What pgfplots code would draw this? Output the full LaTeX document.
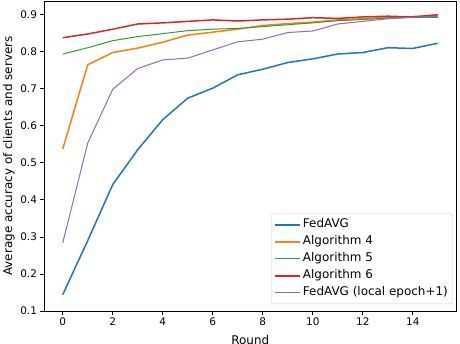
\documentclass[border=0pt]{standalone}
\usepackage{fontspec}
\setmainfont{DejaVu Sans}
\usepackage{pgfplots}
\pgfplotsset{compat=1.18}
\definecolor{mplblue}{HTML}{1F77B4}
\definecolor{mplorange}{HTML}{FF7F0E}
\definecolor{mplgreen}{HTML}{2CA02C}
\definecolor{mplred}{HTML}{D62728}
\definecolor{mplpurple}{HTML}{9467BD}
\begin{document}
\begin{tikzpicture}
\begin{axis}[name=ax, scale only axis, width=412.5bp, height=310bp,
  xmin=-0.75, xmax=15.75, ymin=0.1, ymax=0.936,
  xtick={0,2,...,14}, ytick={0.1,0.2,0.3,0.4,0.5,0.6,0.7,0.8,0.9},
  xtick pos=bottom, ytick pos=left,
  tick align=outside, major tick length=3.5bp,
  tick style={black, line width=0.6bp},
  axis line style={line width=0.6bp},
  /pgf/number format/assume math mode=true,
  ticklabel style={font=\fontsize{10.5}{12}\selectfont},
  yticklabel style={/pgf/number format/.cd, fixed, fixed zerofill, precision=1},
  xlabel={Round}, ylabel={Average accuracy of clients and servers},
  label style={font=\fontsize{12}{14}\selectfont},
  xlabel style={at={(axis description cs:0.5,-0.077)}, anchor=north, inner sep=0pt},
  ylabel style={at={(axis description cs:-0.085,0.5)}, anchor=center},
  legend style={at={(0.9915,0.0226)}, anchor=south east, draw=black!20, rounded corners=2pt,
    font=\fontsize{12}{14}\selectfont, row sep=0bp, inner xsep=3bp, inner ysep=2.5bp,
    nodes={text height=9.5bp, text depth=3.5bp}},
  legend cell align=left,
  legend image code/.code={\draw[#1] (0bp,0bp) -- (25bp,0bp);},
]
\addplot[color=mplblue, line width=1.5bp] coordinates {(0,0.144)(1,0.29)(2,0.441)(3,0.535)(4,0.616)(5,0.674)(6,0.701)(7,0.737)(8,0.752)(9,0.770)(10,0.780)(11,0.793)(12,0.797)(13,0.810)(14,0.808)(15,0.822)};
\addlegendentry{FedAVG}
\addplot[color=mplorange, line width=1.5bp] coordinates {(0,0.537)(1,0.764)(2,0.797)(3,0.809)(4,0.825)(5,0.844)(6,0.852)(7,0.860)(8,0.870)(9,0.875)(10,0.879)(11,0.885)(12,0.888)(13,0.892)(14,0.894)(15,0.897)};
\addlegendentry{Algorithm 4}
\addplot[color=mplgreen, line width=1bp] coordinates {(0,0.793)(1,0.810)(2,0.829)(3,0.840)(4,0.848)(5,0.856)(6,0.860)(7,0.862)(8,0.867)(9,0.872)(10,0.877)(11,0.883)(12,0.886)(13,0.890)(14,0.892)(15,0.892)};
\addlegendentry{Algorithm 5}
\addplot[color=mplred, line width=1.5bp] coordinates {(0,0.837)(1,0.847)(2,0.860)(3,0.874)(4,0.877)(5,0.881)(6,0.885)(7,0.882)(8,0.885)(9,0.887)(10,0.891)(11,0.889)(12,0.893)(13,0.895)(14,0.893)(15,0.899)};
\addlegendentry{Algorithm 6}
\addplot[color=mplpurple, line width=1bp] coordinates {(0,0.284)(1,0.553)(2,0.698)(3,0.754)(4,0.777)(5,0.782)(6,0.804)(7,0.826)(8,0.833)(9,0.851)(10,0.855)(11,0.874)(12,0.881)(13,0.888)(14,0.892)(15,0.895)};
\addlegendentry{FedAVG (local epoch+1)}
\end{axis}
\pgfresetboundingbox
\path ([xshift=-44bp,yshift=-33bp]ax.south west) rectangle ([xshift=3.5bp,yshift=1bp]ax.north east);
\end{tikzpicture}
\end{document}
